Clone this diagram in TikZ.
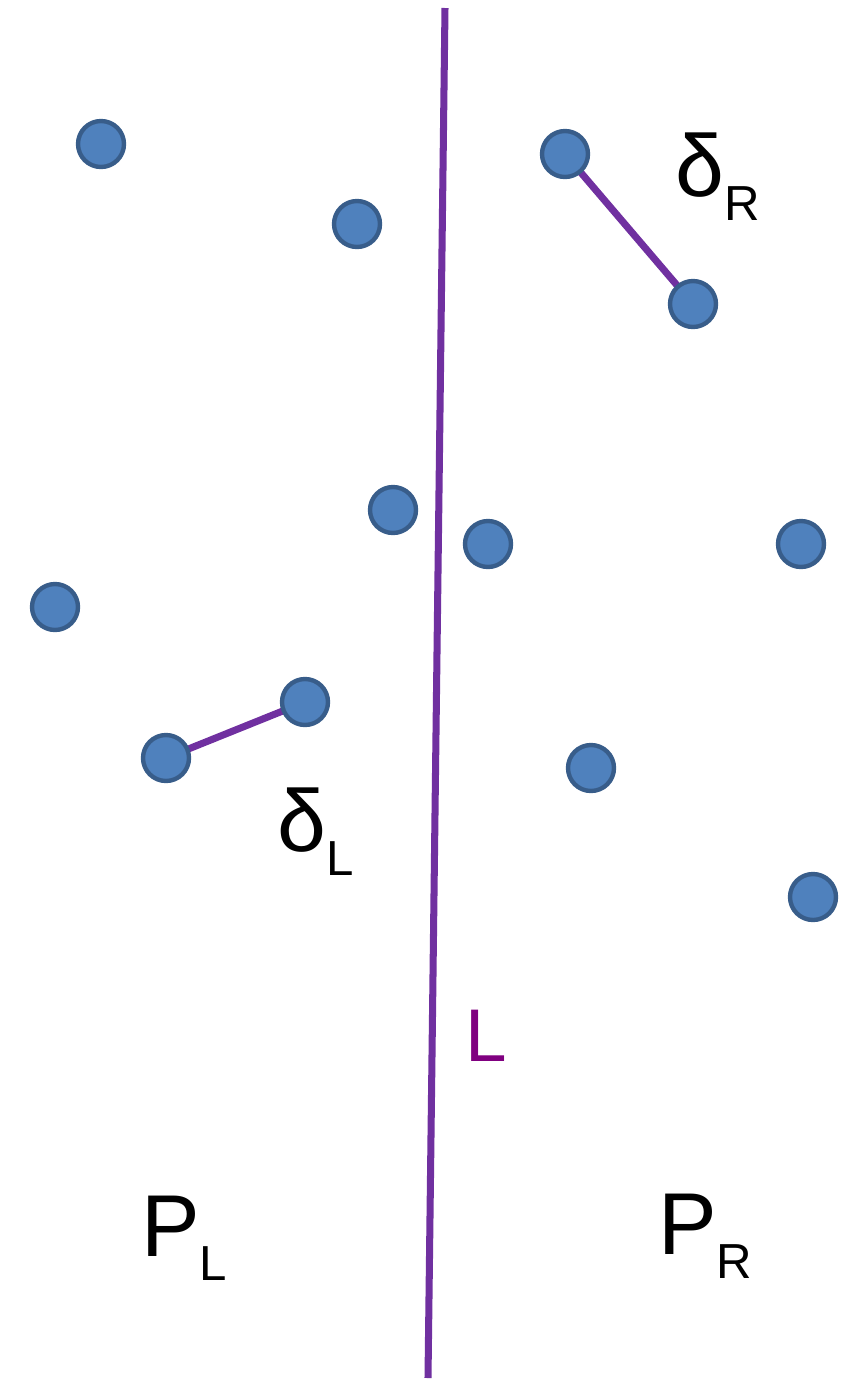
\documentclass[tikz,border=0pt]{standalone}
\usepackage{fontspec}
\setmainfont{Liberation Sans}
\usepackage{xcolor}
\usepackage{tikz}
\usetikzlibrary{positioning,backgrounds}

\definecolor{dotfill}{HTML}{4F81BD}
\definecolor{dotedge}{HTML}{385D8A}
\definecolor{cutline}{HTML}{7030A0}
\definecolor{cutlabel}{HTML}{800080}

\newcommand{\bigfont}{\fontsize{50}{50}\selectfont}
\newcommand{\subfont}{\fontsize{28}{28}\selectfont}
\newcommand{\lblsub}[2]{#1\raisebox{-14pt}{\subfont #2}}

\tikzset{
    pt/.style={circle, draw=dotedge, fill=dotfill, line width=2.5pt,
        minimum size=0.92cm, inner sep=0pt},
    pair/.style={cutline, line width=4pt},
    lbl/.style={anchor=base west, inner sep=0pt, font=\bigfont}
}

\begin{document}
\begin{tikzpicture}[x=0.02cm, y=-0.02cm]
    \useasboundingbox (0,0) rectangle (855,1380);

    % dividing line
    \coordinate (top) at (445,8);
    \coordinate (bot) at (428,1378);
    \draw[pair] (top) -- (bot);

    % points
    \foreach \x/\y [count=\i] in {101/144, 357/224, 565/154, 693/304,
        393/510, 488/544, 801/544, 55/607, 305/702, 166/758, 591/768, 813/897} {
        \node[pt] (p\i) at (\x,\y) {};
    }

    % closest pairs
    \begin{scope}[on background layer]
    \draw[pair] (p3.center) -- (p4.center);
    \draw[pair] (p10.center) -- (p9.center);
    \end{scope}

    % labels
    \node[lbl] (dR) at (675,196) {\lblsub{δ}{R}};
    \node[lbl] (dL) at (277,851) {\lblsub{δ}{L}};
    \node[lbl, cutlabel, font=\fontsize{42.5}{42.5}\selectfont] (lL) at (465,1061) {L};
    \node[lbl] (pL) at (141,1256) {\lblsub{P}{L}};
    \node[lbl] (pR) at (658,1254) {\lblsub{P}{R}};
\end{tikzpicture}
\end{document}
